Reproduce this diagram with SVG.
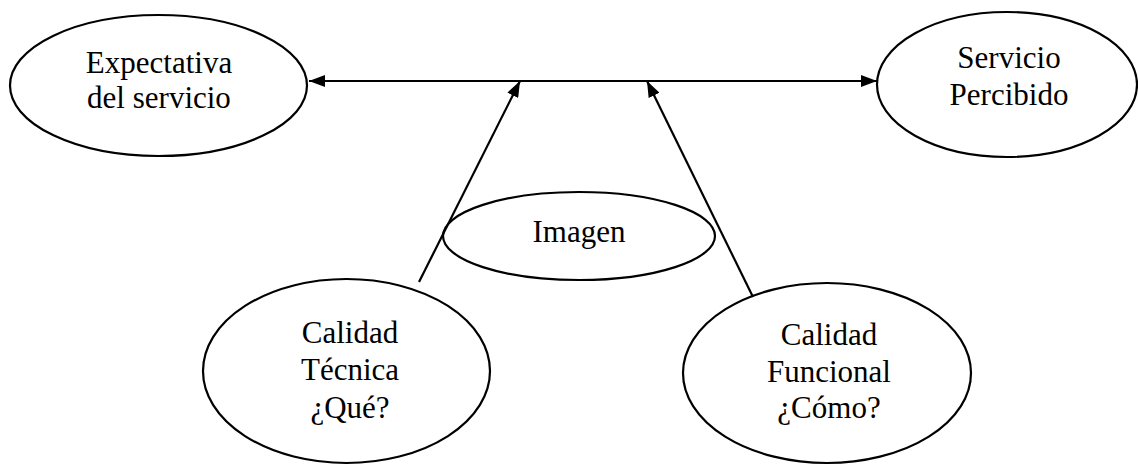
<svg xmlns="http://www.w3.org/2000/svg" width="1138" height="466" viewBox="0 0 1138 466">
<style>
.node ellipse{fill:#fff;stroke:#000;stroke-width:2.2}
text{font-family:"Liberation Serif","Times New Roman",serif;font-size:31px;fill:#000;text-anchor:middle}
.conn line{stroke:#000;stroke-width:2.2;fill:none}
</style>
<defs>
<marker id="ah" viewBox="0 0 16 12" refX="16" refY="6" markerWidth="16" markerHeight="12" markerUnits="userSpaceOnUse" orient="auto-start-reverse">
<path d="M0,0 L16,6 L0,12 z" fill="#000"/>
</marker>
</defs>
<rect width="1138" height="466" fill="#fff"/>
<g id="n-expectativa" class="node">
<ellipse cx="158.5" cy="85.5" rx="148.5" ry="70.5"/>
<text x="159" y="73">Expectativa</text>
<text x="159" y="108">del servicio</text>
</g>
<g id="n-percibido" class="node">
<ellipse cx="1007" cy="84.5" rx="130" ry="72.5"/>
<text x="1009" y="68">Servicio</text>
<text x="1009" y="105">Percibido</text>
</g>
<g id="n-imagen" class="node">
<ellipse cx="579" cy="236" rx="136" ry="44"/>
<text x="579" y="242">Imagen</text>
</g>
<g id="n-tecnica" class="node">
<ellipse cx="346.5" cy="371" rx="143.5" ry="92"/>
<text x="350" y="343">Calidad</text>
<text x="350" y="380">Técnica</text>
<text x="350" y="418">¿Qué?</text>
</g>
<g id="n-funcional" class="node">
<ellipse cx="827" cy="373" rx="144" ry="90"/>
<text x="829" y="345">Calidad</text>
<text x="829" y="382">Funcional</text>
<text x="829" y="418">¿Cómo?</text>
</g>
<g id="connectors" class="conn">
<line x1="309" y1="81" x2="877" y2="81" marker-start="url(#ah)" marker-end="url(#ah)"/>
<line x1="419" y1="282" x2="520" y2="81" marker-end="url(#ah)"/>
<line x1="753" y1="297" x2="647" y2="81" marker-end="url(#ah)"/>
</g>
</svg>
